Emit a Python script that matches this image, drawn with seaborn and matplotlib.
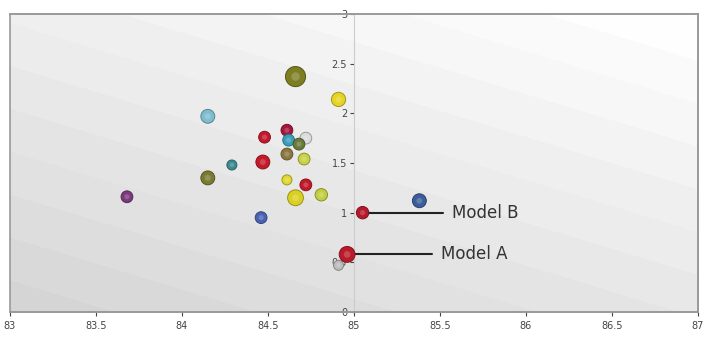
import numpy as np
import pandas as pd
import matplotlib
matplotlib.use("Agg")
import matplotlib.pyplot as plt
from matplotlib.colors import ListedColormap, to_rgb
from matplotlib.patches import Rectangle
import seaborn as sns

# ---- data ----
names = ["m01", "m02", "m03", "m04", "m05", "m06", "m07", "m08", "m09", "m10",
         "m11", "m12", "m13", "m14", "m15", "m16", "m17", "m18", "m19", "m20",
         "Model B", "Model A", "m23"]
acc = [84.66, 84.91, 84.15, 84.48, 84.61, 84.62, 84.72, 84.68, 84.61, 84.71,
       84.29, 84.47, 84.15, 84.61, 84.72, 84.66, 84.81, 83.68, 84.46, 85.38,
       85.05, 84.96, 84.91]
score = [2.37, 2.14, 1.97, 1.76, 1.83, 1.73, 1.75, 1.69, 1.59, 1.54,
         1.48, 1.51, 1.35, 1.33, 1.28, 1.15, 1.18, 1.16, 0.95, 1.12,
         1.00, 0.58, 0.47]
colors = ["#7d7d22", "#e6d424", "#7fbcd0", "#c21a2c", "#a3183a", "#3a9fba",
          "#dcdcdc", "#6b7a3c", "#8a7840", "#c8d244", "#3b8c92", "#c41a2a",
          "#7a7a32", "#e2d832", "#c21a2a", "#dad022", "#c2ce42", "#7a3a7c",
          "#4a62b2", "#3c5c9c", "#b41a2a", "#ba1a2a", "#bcbcbc"]
sizes_pt = [210, 105, 100, 72, 72, 72, 72, 72, 72, 72,
            52, 100, 100, 52, 72, 130, 80, 72, 72, 100,
            80, 130, 52]
x_ticks = [83, 83.5, 84, 84.5, 85, 85.5, 86, 86.5, 87]
y_ticks = [0, 0.5, 1, 1.5, 2, 2.5, 3]
labelled = ["Model B", "Model A"]

df = pd.DataFrame({"name": names, "acc": acc, "score": score, "sz": sizes_pt})

sns.set_theme(style="white")
plt.rcParams["font.family"] = ["DejaVu Sans"]

fig = plt.figure(figsize=(7.04, 3.42), dpi=100)
ax = fig.add_axes([10 / 704, (342 - 312) / 342, 688 / 704, (312 - 14) / 342])

# background shaded bands
gx, gy = np.meshgrid(np.linspace(83, 87, 300), np.linspace(0, 3, 300))
gz = gx + 1.9 * gy
levels = np.arange(82.8, 93.2, 0.82)
greys = np.linspace(0.80, 0.995, len(levels) - 1) ** 0.8
cmap = ListedColormap([(g, g, g) for g in greys])
ax.contourf(gx, gy, gz, levels=levels, cmap=cmap, zorder=0)

palette = dict(zip(names, colors))
edge = [tuple(np.array(to_rgb(c)) * 0.7) for c in colors]
sns.scatterplot(data=df, x="acc", y="score", hue="name", palette=palette,
                size="sz", sizes={s: s for s in set(sizes_pt)},
                edgecolor=edge, linewidth=0.7, legend=False, ax=ax, zorder=3)
# small highlight for a 3D-ish look
ax.scatter(df["acc"], df["score"], s=np.array(sizes_pt) * 0.18,
           color="white", alpha=0.2, linewidth=0, zorder=4)

for nm in labelled:
    i = names.index(nm)
    end_x = 85.517 if nm == "Model B" else 85.453
    ax.plot([acc[i], end_x], [score[i], score[i]], color="#222222", lw=1.5, zorder=2)
    ax.text(end_x + 0.05, score[i], nm, va="center", ha="left",
            fontsize=12, color="#333333", zorder=5)

ax.set_xlim(83, 87)
ax.set_ylim(0, 3)
ax.set_xticks(x_ticks)
ax.set_xticklabels([f"{v:g}" for v in x_ticks])
ax.set_yticks(y_ticks)
ax.set_yticklabels([f"{v:g}" for v in y_ticks])
ax.set_xlabel("")
ax.set_ylabel("")

ax.spines["left"].set_position(("data", 85))
ax.spines["left"].set_color("#cccccc")
ax.spines["left"].set_linewidth(0.8)
for s in ["top", "right", "bottom"]:
    ax.spines[s].set_color("#999999")
    ax.spines[s].set_linewidth(1.2)
ax.add_patch(Rectangle((0, 0), 1, 1, transform=ax.transAxes, fill=False,
                       ec="#999999", lw=1.2, zorder=6, clip_on=False))
ax.tick_params(axis="both", which="both", direction="out", length=3, width=0.8,
               colors="#444444", labelsize=7, left=True, bottom=True)
ax.tick_params(axis="y", pad=2)

fig.savefig("out.png", dpi=100)
